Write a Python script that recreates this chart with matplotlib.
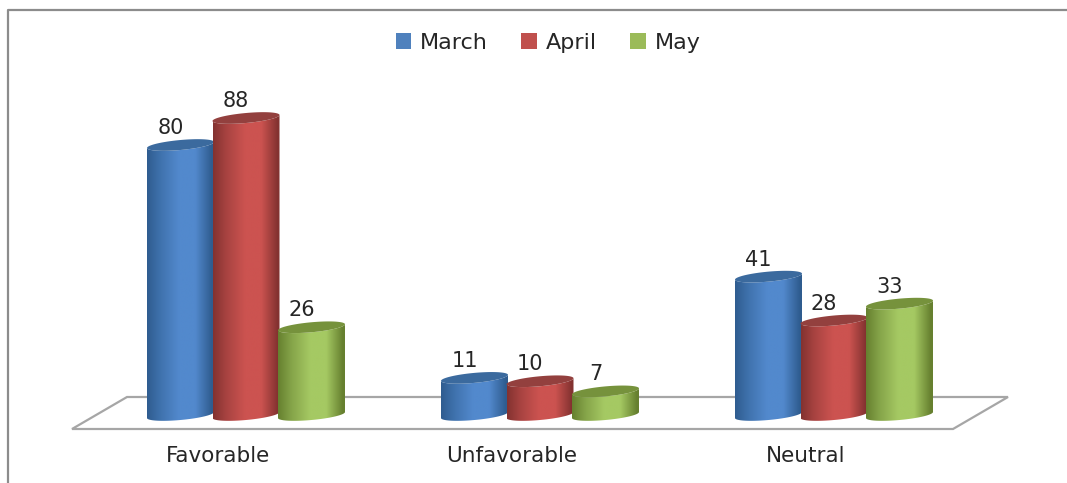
# 3d-looking cylinder chart, survey answers by month

import numpy as np
import matplotlib
matplotlib.use("Agg")
import matplotlib.pyplot as plt
from matplotlib.colors import LinearSegmentedColormap
from matplotlib.patches import Patch, Polygon

categories = ["Favorable", "Unfavorable", "Neutral"]
months = ["March", "April", "May"]
march = [80, 11, 41]
april = [88, 10, 28]
may = [26, 7, 33]
series = [march, april, may]

# dark edge, mid, light middle, top cap, legend
colors = [
    ("#2f5c8f", "#3f72ad", "#5289cd", "#3b6a9e", "#4f81bd"),
    ("#833230", "#a84341", "#cc5350", "#93403e", "#c0504d"),
    ("#66802f", "#85a449", "#a5c963", "#76923c", "#9bbb59"),
]

W, H = 1067, 483
GROUP_PX = 294.0   # pixels per category
VALUE_PX = 3.375   # pixels per value unit
X0_PX, Y0_PX = 246.0, 415.0

fig = plt.figure(figsize=(W / 100, H / 100), dpi=100)
ax = fig.add_axes([0, 0, 1, 1])
xlim = (-X0_PX / GROUP_PX, (W - X0_PX) / GROUP_PX)
ylim = ((Y0_PX - H) / VALUE_PX, Y0_PX / VALUE_PX)
ax.axis("off")

dx = lambda px: px / GROUP_PX
dy = lambda px: px / VALUE_PX

z = 3


def ellipse(cx, cy, t):
    x = cx + dx(33.5) * np.cos(t)
    y = cy + dy(5.0) * np.sin(t) + dy(3.0) * np.cos(t)
    return x, y


def cylinder(cx, value, col):
    global z
    dark, mid, light, cap = col[:4]
    t = np.linspace(np.pi, 2 * np.pi, 60)
    bx, by = ellipse(cx, 0, t)
    tx, ty = ellipse(cx, value, t[::-1])
    verts = np.column_stack([np.r_[bx, tx], np.r_[by, ty]])
    side = Polygon(verts, closed=True, fc="none", ec="none", zorder=z)
    ax.add_patch(side)

    cmap = LinearSegmentedColormap.from_list(
        "c", [(0, dark), (0.2, mid), (0.48, light), (0.72, light), (0.97, dark), (1, dark)])
    img = ax.imshow(np.linspace(0, 1, 256).reshape(1, -1), cmap=cmap, aspect="auto",
                    extent=[cx - dx(33.5), cx + dx(33.5), -5, value + 5],
                    interpolation="bilinear", zorder=z)
    img.set_clip_path(side)

    t2 = np.linspace(0, 2 * np.pi, 80)
    ex, ey = ellipse(cx, value, t2)
    ax.add_patch(Polygon(np.column_stack([ex, ey]), closed=True, fc=cap, ec="none", zorder=z + 0.5))
    z += 1


# floor
floor = [((72 - X0_PX) / GROUP_PX, (Y0_PX - 429) / VALUE_PX),
         ((127 - X0_PX) / GROUP_PX, (Y0_PX - 397) / VALUE_PX),
         ((1008 - X0_PX) / GROUP_PX, (Y0_PX - 397) / VALUE_PX),
         ((953 - X0_PX) / GROUP_PX, (Y0_PX - 429) / VALUE_PX)]
ax.add_patch(Polygon(floor, closed=True, fc="white", ec="#a6a6a6", lw=1.6, zorder=1))

step = dx(65.5)
for g, name in enumerate(categories):
    for s, vals in enumerate(series):
        cx = g + (s - 1) * step
        cylinder(cx, vals[g], colors[s])
        ax.text(cx - dx(10), vals[g] + dy(17), str(vals[g]), ha="center", va="center",
                fontsize=15, color="#262626", zorder=50)
    ax.text(g - dx(28), (Y0_PX - 456) / VALUE_PX, name, ha="center", va="center",
            fontsize=15.5, color="#262626", zorder=50)

# imshow resets the limits
ax.set_xlim(xlim)
ax.set_ylim(ylim)

handles = [Patch(fc=c[4], ec="none") for c in colors]
ax.legend(handles, months, ncol=3, loc="center", bbox_to_anchor=(548 / W, 1 - 43 / H),
          frameon=False, fontsize=16, handlelength=0.7, handleheight=0.7,
          handletextpad=0.4, columnspacing=1.5, labelcolor="#262626")

# outer border, only top and left show
fig.add_artist(plt.Line2D([8 / W, 8 / W, 1], [0, 1 - 10 / H, 1 - 10 / H],
                          color="#8c8c8c", lw=1.6))

fig.savefig("out.png", dpi=100)
